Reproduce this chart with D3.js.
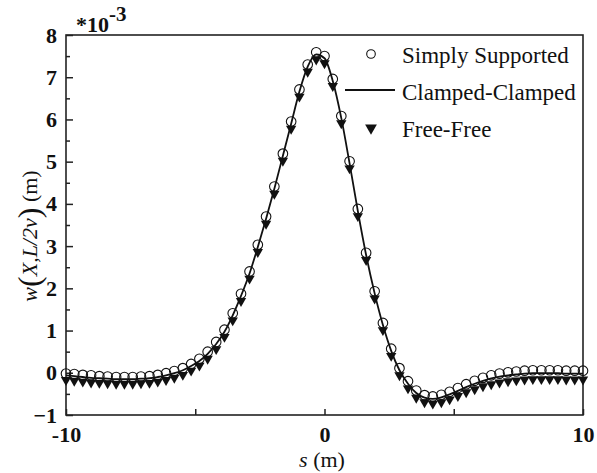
<!DOCTYPE html>
<html>
<head>
<meta charset="utf-8">
<script src="https://cdn.jsdelivr.net/npm/d3@7"></script>
<style>
  body { margin: 0; background: #fff; }
  svg { display: block; }
</style>
</head>
<body>
<div id="chart"></div>
<script>
const sValues = [-10.00, -9.68, -9.35, -9.03, -8.71, -8.39, -8.06, -7.74, -7.42, -7.10,
  -6.77, -6.45, -6.13, -5.81, -5.48, -5.16, -4.84, -4.52, -4.19, -3.87,
  -3.55, -3.23, -2.90, -2.58, -2.26, -1.94, -1.61, -1.29, -0.97, -0.65,
  -0.32, 0.00, 0.32, 0.65, 0.97, 1.29, 1.61, 1.94, 2.26, 2.58,
  2.90, 3.23, 3.55, 3.87, 4.19, 4.52, 4.84, 5.16, 5.48, 5.81,
  6.13, 6.45, 6.77, 7.10, 7.42, 7.74, 8.06, 8.39, 8.71, 9.03,
  9.35, 9.68, 10.00];

// values in units of 1e-3 m
const simplySupported = [-0.02, -0.03, -0.05, -0.06, -0.08, -0.09, -0.10, -0.10, -0.10, -0.09,
  -0.08, -0.05, -0.01, 0.04, 0.11, 0.21, 0.33, 0.50, 0.73, 1.02,
  1.41, 1.87, 2.40, 3.03, 3.70, 4.41, 5.19, 5.95, 6.71, 7.30,
  7.59, 7.50, 6.96, 6.08, 5.01, 3.88, 2.84, 1.93, 1.18, 0.57,
  0.11, -0.20, -0.42, -0.53, -0.56, -0.52, -0.45, -0.36, -0.27, -0.19,
  -0.12, -0.06, -0.02, 0.01, 0.03, 0.05, 0.06, 0.06, 0.06, 0.06,
  0.05, 0.05, 0.05];

const clampedClamped = [-0.06, -0.08, -0.10, -0.12, -0.13, -0.14, -0.15, -0.15, -0.15, -0.14,
  -0.13, -0.10, -0.06, -0.01, 0.06, 0.16, 0.28, 0.45, 0.68, 0.97,
  1.36, 1.82, 2.35, 2.98, 3.65, 4.36, 5.14, 5.90, 6.66, 7.25,
  7.54, 7.45, 6.91, 6.03, 4.96, 3.83, 2.79, 1.88, 1.13, 0.52,
  0.06, -0.26, -0.48, -0.59, -0.62, -0.58, -0.51, -0.43, -0.34, -0.26,
  -0.19, -0.13, -0.09, -0.06, -0.04, -0.02, -0.01, -0.01, -0.01, -0.01,
  -0.02, -0.02, -0.02];

const freeFree = [-0.17, -0.19, -0.21, -0.23, -0.24, -0.25, -0.26, -0.26, -0.26, -0.25,
  -0.24, -0.21, -0.17, -0.12, -0.05, 0.05, 0.17, 0.33, 0.56, 0.85,
  1.24, 1.70, 2.23, 2.86, 3.53, 4.24, 5.02, 5.78, 6.54, 7.13,
  7.42, 7.33, 6.79, 5.91, 4.84, 3.71, 2.67, 1.76, 1.01, 0.40,
  -0.06, -0.37, -0.59, -0.70, -0.73, -0.70, -0.63, -0.55, -0.46, -0.39,
  -0.32, -0.27, -0.23, -0.20, -0.18, -0.16, -0.15, -0.15, -0.15, -0.15,
  -0.16, -0.16, -0.16];

const xTicks = [-10, -5, 0, 5, 10];
const xTickLabels = [-10, 0, 10];
const yTicks = [-1, 0, 1, 2, 3, 4, 5, 6, 7, 8];
const yMinorTicks = [-0.5, 0.5, 1.5, 2.5, 3.5, 4.5, 5.5, 6.5, 7.5];
const legendNames = ['Simply Supported', 'Clamped-Clamped', 'Free-Free'];

const W = 597, H = 473;
const margin = { top: 35, right: 14, bottom: 58, left: 66 };
const width = W - margin.left - margin.right;
const height = H - margin.top - margin.bottom;

const svg = d3.select('#chart').append('svg')
  .attr('width', W)
  .attr('height', H)
  .attr('font-family', '"Liberation Serif", "Times New Roman", serif');

const g = svg.append('g')
  .attr('transform', `translate(${margin.left},${margin.top})`);

const x = d3.scaleLinear().domain([-10, 10]).range([0, width]);
const y = d3.scaleLinear().domain([-1, 8]).range([height, 0]);

// frame
g.append('rect')
  .attr('width', width)
  .attr('height', height)
  .attr('fill', 'none')
  .attr('stroke', '#222')
  .attr('stroke-width', 1.6);

// x axis (ticks inward)
const xAxis = g.append('g')
  .attr('transform', `translate(0,${height})`)
  .call(d3.axisBottom(x).tickValues(xTicks).tickSizeInner(-6).tickSizeOuter(0)
    .tickFormat(d => xTickLabels.includes(d) ? String(d) : ''));
xAxis.select('.domain').remove();
xAxis.selectAll('line').attr('stroke', '#222').attr('stroke-width', 1.5);
xAxis.selectAll('text')
  .attr('font-family', '"Liberation Serif", serif')
  .attr('font-size', 22).attr('font-weight', 'bold').attr('fill', '#111')
  .attr('y', 11).attr('dy', '0.71em');

// y axis
const yAxis = g.append('g')
  .call(d3.axisLeft(y).tickValues(yTicks).tickSizeInner(-7).tickSizeOuter(0)
    .tickFormat(d3.format('d')));
yAxis.select('.domain').remove();
yAxis.selectAll('line').attr('stroke', '#222').attr('stroke-width', 1.5);
yAxis.selectAll('text')
  .attr('font-family', '"Liberation Serif", serif')
  .attr('font-size', 22).attr('font-weight', 'bold').attr('fill', '#111')
  .attr('x', -9);

const yMinor = g.append('g')
  .call(d3.axisLeft(y).tickValues(yMinorTicks).tickSizeInner(-4).tickSizeOuter(0).tickFormat(''));
yMinor.select('.domain').remove();
yMinor.selectAll('line').attr('stroke', '#222').attr('stroke-width', 1.5);

// multiplier
svg.append('text')
  .attr('x', 76).attr('y', 32)
  .attr('font-size', 22).attr('font-weight', 'bold').attr('fill', '#111')
  .text('*10')
  .append('tspan')
  .attr('dy', -11).attr('font-size', 21)
  .text('-3');

// axis titles
const xt = svg.append('text')
  .attr('x', 322).attr('y', 467)
  .attr('text-anchor', 'middle')
  .attr('font-size', 22).attr('fill', '#111');
xt.append('tspan').attr('font-style', 'italic').text('s');
xt.append('tspan').text(' (m)');

const yt = svg.append('text')
  .attr('transform', 'translate(37,236) rotate(-90)')
  .attr('text-anchor', 'middle')
  .attr('font-size', 22).attr('fill', '#111');
yt.append('tspan').attr('font-style', 'italic').text('w');
yt.append('tspan').attr('font-size', 32).attr('dy', 3).text('(');
yt.append('tspan').attr('font-style', 'italic').attr('dy', -3).text('X,L/2v');
yt.append('tspan').attr('font-size', 32).attr('dy', 3).text(')');
yt.append('tspan').attr('dy', -3).text(' (m)');

// data
const pts = sValues.map((s, i) => ({ s, ss: simplySupported[i], cc: clampedClamped[i], ff: freeFree[i] }));

const tri = d3.symbol().type(d3.symbolTriangle).size(46);

g.append('g').selectAll('path')
  .data(pts)
  .join('path')
  .attr('d', tri)
  .attr('transform', d => `translate(${x(d.s)},${y(d.ff)}) rotate(180)`)
  .attr('fill', '#111');

g.append('g').selectAll('circle')
  .data(pts)
  .join('circle')
  .attr('cx', d => x(d.s))
  .attr('cy', d => y(d.ss))
  .attr('r', 4.8)
  .attr('fill', 'none')
  .attr('stroke', '#111')
  .attr('stroke-width', 1.1);

g.append('path')
  .datum(pts)
  .attr('fill', 'none')
  .attr('stroke', '#111')
  .attr('stroke-width', 1.8)
  .attr('d', d3.line().x(d => x(d.s)).y(d => y(d.cc)).curve(d3.curveMonotoneX));

// legend
const lg = svg.append('g');
lg.append('circle').attr('cx', 371).attr('cy', 54).attr('r', 4.3)
  .attr('fill', 'none').attr('stroke', '#111').attr('stroke-width', 1.1);
lg.append('line').attr('x1', 345).attr('x2', 395).attr('y1', 90).attr('y2', 90)
  .attr('stroke', '#111').attr('stroke-width', 1.8);
lg.append('path').attr('d', d3.symbol().type(d3.symbolTriangle).size(60))
  .attr('transform', 'translate(371,128) rotate(180)')
  .attr('fill', '#111');
lg.selectAll('text')
  .data(legendNames)
  .join('text')
  .attr('x', 402)
  .attr('y', (d, i) => 63 + i * 37)
  .attr('font-size', 23)
  .attr('fill', '#111')
  .text(d => d);
</script>
</body>
</html>
